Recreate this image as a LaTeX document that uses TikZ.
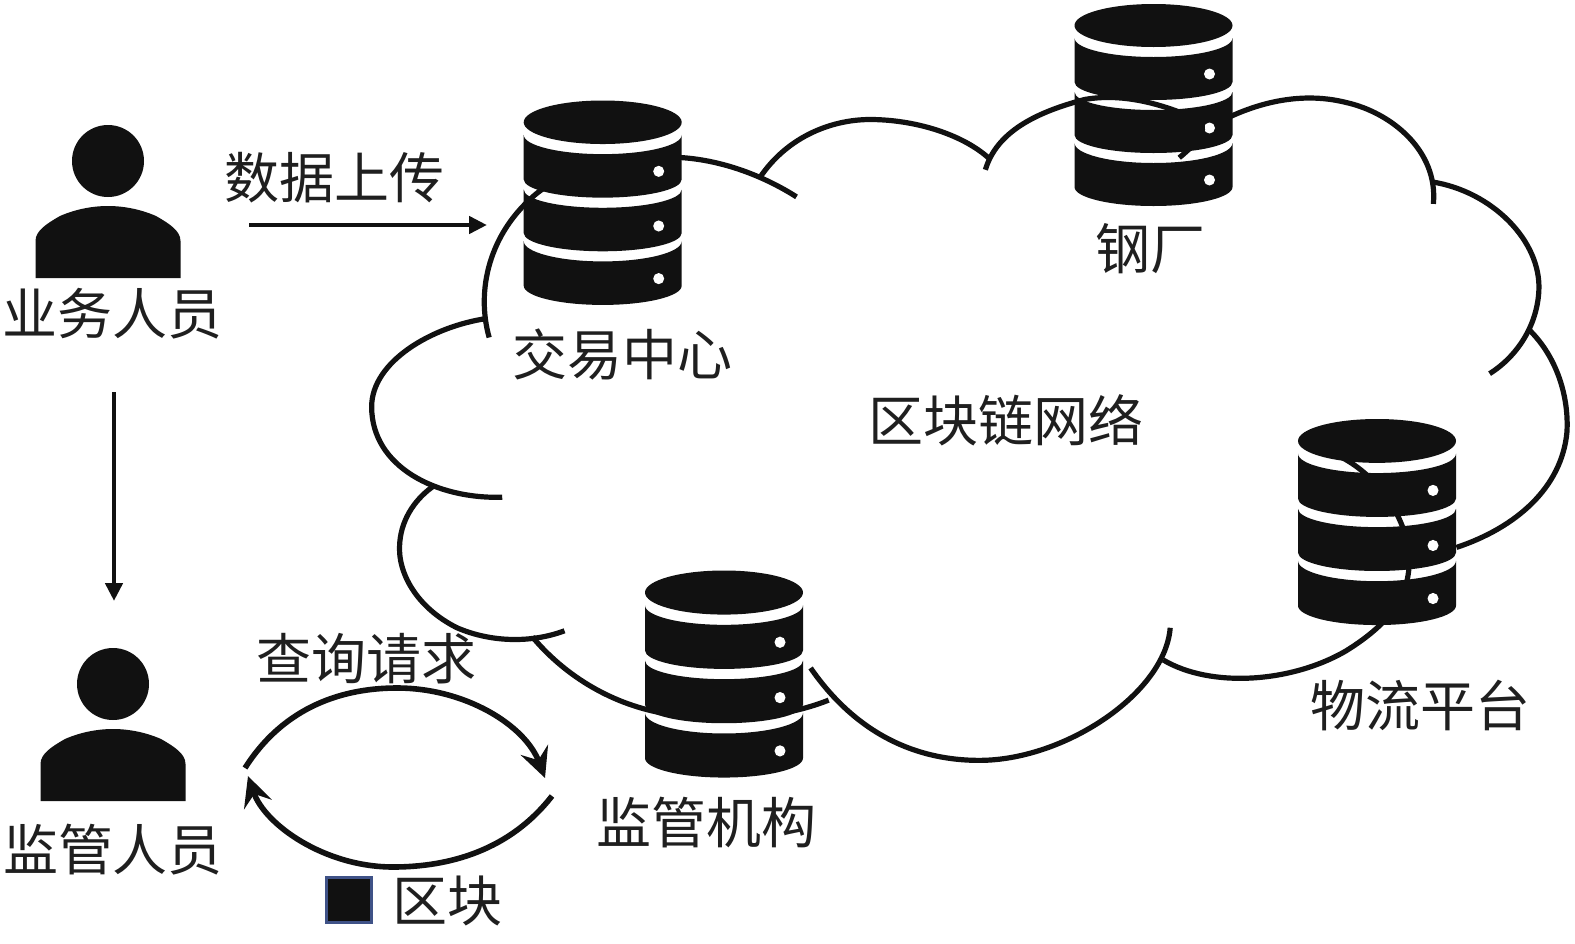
\documentclass[tikz,border=0pt]{standalone}
\usepackage{fontspec}
\newfontfamily\cjk{Noto Sans CJK SC}
\usetikzlibrary{arrows.meta}
\definecolor{ink}{HTML}{111111}
\definecolor{legendedge}{HTML}{3F5287}
\newcommand\dblayer[6]{%
  \fill[ink] (-79,#1) .. controls (-79,#2) and (-43.5,#3) .. (0,#3)
    .. controls (43.5,#3) and (79,#2) .. (79,#1) -- (79,#4)
    .. controls (79,#5) and (43.5,#6) .. (0,#6)
    .. controls (-43.5,#6) and (-79,#5) .. (-79,#4) -- cycle;}
\tikzset{
  dbcyl/.pic={
    \fill[ink] (0,21.5) ellipse[x radius=79,y radius=21.5];
    \dblayer{34}{44.5}{53}{78}{88}{96}
    \dblayer{88}{98}{106}{131}{141}{149}
    \dblayer{139}{150}{159}{183}{193.5}{202}
    \fill[white] (56,70) circle[radius=5.5] (56,124) circle[radius=5.5] (56,176) circle[radius=5.5];
  },
  personicon/.pic={
    \fill[ink] (0,0) circle[radius=36];
    \fill[ink] (-72.5,117) -- (-72.5,80) .. controls (-72.5,70) and (-62,63) .. (-48,55)
      .. controls (-32,48) and (-15,45) .. (0,45) .. controls (15,45) and (32,48) .. (48,55)
      .. controls (62,63) and (72.5,70) .. (72.5,80) -- (72.5,117) -- cycle;
  },
  label/.style={font=\cjk\fontsize{55}{60}\selectfont, text=black!88, inner sep=0pt},
  cloudline/.style={draw=ink, line width=5.2pt, line cap=butt},
  flowarrow/.style={draw=ink, line width=4.6pt, -{Triangle[length=18pt,width=17pt]}},
  looparrow/.style={draw=ink, line width=5.6pt, -{Stealth[length=30pt,width=29pt,inset=11pt]}},
}
\begin{document}
\begin{tikzpicture}[x=1pt,y=-1pt]
\useasboundingbox (0,0) rectangle (1575,943);
\fill[white] (0,0) rectangle (1575,943);

\pic[yscale=1.012] (dbtrade) at (602.7,100.5) {dbcyl};
\pic (dbsteel) at (1153.5,4) {dbcyl};
\pic[yscale=1.02] (dblogi) at (1377,419) {dbcyl};
\pic[yscale=1.025] (dbreg) at (724,570.5) {dbcyl};

\pic (staff) at (108,161) {personicon};
\pic (audit) at (113,684) {personicon};

\begin{scope}[scale=1.00446]
\draw[cloudline] (487,336) .. controls (474,290) and (486,232) .. (535,192) .. controls (570,165) and (625,153) .. (680,157) .. controls (720,160) and (760,175) .. (793,196);
\draw[cloudline] (757,176) .. controls (785,135) and (830,118) .. (870,119) .. controls (915,120) and (960,135) .. (985,158);
\draw[cloudline] (981,169) .. controls (992,132) and (1030,112) .. (1080,99) .. controls (1120,92) and (1160,105) .. (1190,118) .. controls (1205,125) and (1195,140) .. (1174,157);
\draw[cloudline] (1225,116) .. controls (1260,100) and (1300,92) .. (1340,102) .. controls (1385,112) and (1432,150) .. (1427,203);
\draw[cloudline] (1425,181) .. controls (1485,190) and (1535,240) .. (1532,290) .. controls (1530,325) and (1510,355) .. (1483,372);
\draw[cloudline] (1522,328) .. controls (1550,355) and (1562,395) .. (1560,430) .. controls (1555,485) and (1510,525) .. (1450,545);
\draw[cloudline] (1335,455) .. controls (1365,470) and (1395,505) .. (1402,545) .. controls (1408,590) and (1385,620) .. (1340,648) .. controls (1285,680) and (1205,685) .. (1158,657);
\draw[cloudline] (1165,625) .. controls (1160,690) and (1060,757) .. (975,757) .. controls (900,757) and (845,720) .. (807,665);
\draw[cloudline] (825,697) .. controls (780,715) and (720,720) .. (660,710) .. controls (605,700) and (560,670) .. (530,634);
\draw[cloudline] (562,628) .. controls (530,640) and (490,640) .. (455,625) .. controls (415,605) and (395,570) .. (398,540) .. controls (400,515) and (415,495) .. (433,483);
\draw[cloudline] (500,495) .. controls (435,497) and (370,465) .. (370,405) .. controls (370,360) and (430,325) .. (485,317);
\end{scope}

\node[label] (lstaff) at (112.5,314) {\cjk 业务人员};
\node[label] (lupload) at (334,178) {\cjk 数据上传};
\node[label] (ltrade) at (622,354) {\cjk 交易中心};
\node[label] (lsteel) at (1150,249) {\cjk 钢厂};
\node[label] (lnet) at (1006,420) {\cjk 区块链网络};
\node[label] (llogi) at (1420,705) {\cjk 物流平台};
\node[label] (lreg) at (706,823) {\cjk 监管机构};
\node[label] (lquery) at (366,659) {\cjk 查询请求};
\node[label] (laudit) at (113,850) {\cjk 监管人员};
\node[label] (lblock) at (447,901) {\cjk 区块};
\node[draw=legendedge, fill=ink, line width=2.6pt, minimum size=45pt, inner sep=0pt] (legendbox) at (349,900) {};

\coordinate (upa) at (249,225);
\coordinate (upb) at (487,225);
\coordinate (downa) at (114,392);
\coordinate (downb) at (114,601);
\draw[flowarrow] (upa) -- (upb);
\draw[flowarrow] (downa) -- (downb);

\coordinate (topa) at (245,768);
\coordinate (topb) at (545,778);
\coordinate (bota) at (552,796);
\coordinate (botb) at (248,776);
\draw[looparrow] (topa) .. controls (285,705) and (345,688) .. (397,688) .. controls (465,688) and (525,725) .. (topb);
\draw[looparrow] (bota) .. controls (510,850) and (450,867) .. (393,867) .. controls (325,867) and (265,825) .. (botb);
\end{tikzpicture}
\end{document}
